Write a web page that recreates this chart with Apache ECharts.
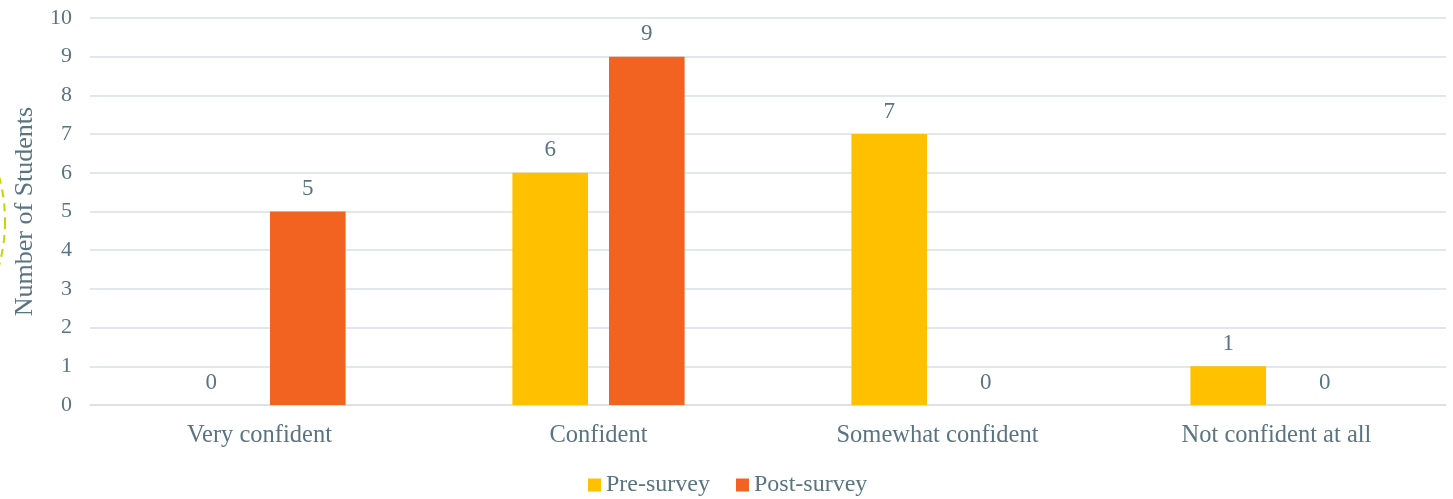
<!DOCTYPE html>
<html>
<head>
<meta charset="utf-8">
<script src="https://cdn.jsdelivr.net/npm/echarts@6/dist/echarts.min.js"></script>
<style>
  html, body { margin: 0; padding: 0; background: #fff; }
  #chart { width: 1453px; height: 499px; }
</style>
</head>
<body>
<div id="chart"></div>
<script>
const categories = ['Very confident', 'Confident', 'Somewhat confident', 'Not confident at all']
const preSurvey = [0, 6, 7, 1]
const postSurvey = [5, 9, 0, 0]
const yTicks = [0, 10, 1] // min, max, interval

const textColor = '#5b7481'
const gridColor = '#d9dfe3'
const font = '"Liberation Serif", "Times New Roman", serif'

const chart = echarts.init(document.getElementById('chart'))

chart.setOption({
  textStyle: { fontFamily: font },
  animation: false,
  legend: {
    top: 468,
    left: 583,
    icon: 'rect',
    itemWidth: 13,
    itemHeight: 13,
    itemGap: 26,
    data: ['Pre-survey', 'Post-survey'],
    textStyle: { fontFamily: font, fontSize: 24, color: textColor }
  },
  grid: {
    left: 90,
    right: 7,
    top: 18,
    bottom: 94,
    outerBoundsMode: 'none'
  },
  xAxis: {
    type: 'category',
    data: categories,
    axisTick: { show: false },
    axisLine: { lineStyle: { color: gridColor, width: 1.5 } },
    axisLabel: {
      margin: 18,
      fontFamily: font,
      fontSize: 24.5,
      color: textColor
    }
  },
  yAxis: {
    type: 'value',
    min: yTicks[0],
    max: yTicks[1],
    interval: yTicks[2],
    name: 'Number of Students',
    nameLocation: 'middle',
    nameGap: 52,
    nameRotate: 90,
    nameTextStyle: { fontFamily: font, fontSize: 26, color: textColor },
    axisLine: { show: false },
    axisTick: { show: false },
    axisLabel: {
      margin: 18,
      fontFamily: font,
      fontSize: 22,
      color: textColor
    },
    splitLine: { lineStyle: { color: gridColor, width: 1.5 } }
  },
  series: [{
    name: 'Pre-survey',
    type: 'bar',
    barWidth: '22.3%',
    barGap: '27.8%',
    itemStyle: { color: '#ffc000' },
    label: {
      show: true,
      position: 'top',
      distance: 11,
      fontFamily: font,
      fontSize: 23,
      color: textColor
    },
    data: preSurvey
  }, {
    name: 'Post-survey',
    type: 'bar',
    barWidth: '22.3%',
    barGap: '27.8%',
    itemStyle: { color: '#f26322' },
    label: {
      show: true,
      position: 'top',
      distance: 11,
      fontFamily: font,
      fontSize: 23,
      color: textColor
    },
    data: postSurvey
  }],
  graphic: [{
    type: 'circle',
    shape: { cx: -165, cy: 221, r: 170 },
    style: { fill: 'none', stroke: '#c5d500', lineWidth: 2, lineDash: [8, 6] },
    silent: true
  }]
})
</script>
</body>
</html>
